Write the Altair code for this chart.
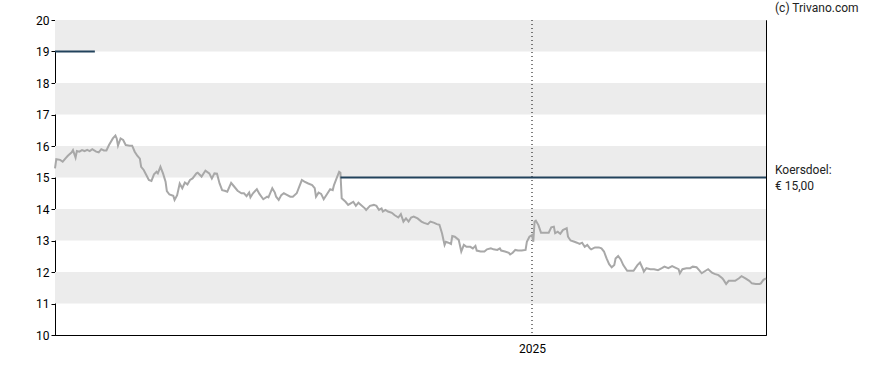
import altair as alt
import pandas as pd

# ---- data ----
start_date = "2023-12-27"
end_date = "2025-07-02"
day_offsets = [0, 1, 4, 6, 8, 10, 13, 14, 16, 17, 19, 21, 23, 25, 27, 29, 32, 34, 36, 38, 40,
               42, 45, 47, 48, 49, 51, 53, 55, 58, 60, 62, 64, 66, 67, 69, 71, 73, 75, 77, 79,
               80, 82, 84, 86, 87, 89, 92, 93, 95, 97, 99, 101, 103, 105, 107, 110, 111, 114,
               117, 120, 122, 124, 126, 128, 130, 132, 134, 137, 139, 142, 145, 147, 149, 151,
               152, 154, 157, 159, 162, 165, 166, 169, 171, 172, 174, 176, 178, 180, 183, 185,
               188, 190, 192, 194, 197, 200, 202, 203, 205, 207, 209, 212, 214, 216, 217, 219,
               221, 222, 223, 226, 228, 230, 232, 234, 236, 238, 241, 242, 245, 248, 250, 252,
               254, 255, 257, 259, 262, 264, 267, 269, 271, 273, 275, 277, 279, 282, 285, 287,
               290, 292, 295, 297, 299, 301, 303, 304, 306, 308, 309, 311, 314, 316, 318, 320,
               323, 325, 327, 328, 331, 334, 336, 339, 341, 344, 346, 347, 350, 353, 354, 356,
               358, 360, 363, 366, 367, 369, 371, 372, 373, 374, 376, 378, 380, 382, 384, 386,
               388, 389, 391, 393, 395, 398, 399, 401, 404, 406, 408, 410, 412, 414, 416, 417,
               420, 423, 425, 427, 429, 431, 433, 435, 436, 438, 440, 442, 445, 447, 450, 453,
               455, 457, 458, 460, 463, 466, 469, 472, 474, 477, 480, 482, 485, 486, 488, 491,
               494, 496, 499, 501, 503, 506, 508, 511, 513, 516, 519, 520, 522, 524, 526, 529,
               532, 534, 537, 540, 542, 545, 548, 549, 551, 553]
prices = [15.29, 15.58, 15.56, 15.50, 15.60, 15.69, 15.80, 15.87, 15.63, 15.84, 15.82, 15.87,
          15.84, 15.88, 15.84, 15.90, 15.82, 15.80, 15.90, 15.86, 15.86,
          16.03, 16.24, 16.33, 16.24, 16.01, 16.24, 16.19, 16.03, 16.01, 16.01, 15.82, 15.69,
          15.60, 15.34, 15.24, 15.08, 14.92, 14.89, 15.10, 15.18,
          15.13, 15.34, 15.13, 14.87, 14.57, 14.46, 14.42, 14.29, 14.44, 14.81, 14.66, 14.84,
          14.78, 14.92, 14.97, 15.13, 15.15, 15.03,
          15.22, 15.13, 14.97, 15.13, 15.12, 14.81, 14.60, 14.58, 14.55, 14.83, 14.73, 14.58,
          14.50, 14.50, 14.41, 14.52,
          14.37, 14.50, 14.63, 14.48, 14.31, 14.39, 14.37, 14.66, 14.52, 14.39, 14.29, 14.44,
          14.50, 14.46, 14.39, 14.39,
          14.50, 14.71, 14.92, 14.87, 14.81, 14.76, 14.66, 14.39, 14.52, 14.48, 14.31, 14.50,
          14.63, 14.60, 14.76, 14.97,
          15.18, 15.15, 14.34, 14.23, 14.13, 14.18, 14.23, 14.10, 14.20, 14.13, 14.02, 13.97,
          14.10, 14.13, 14.10, 13.97,
          14.02, 13.92, 13.97, 13.92, 13.88, 13.81, 13.73, 13.84, 13.60, 13.70, 13.60, 13.73,
          13.76, 13.70, 13.60, 13.56,
          13.52, 13.60, 13.56, 13.52, 13.50, 13.23, 12.86, 12.96, 12.93, 12.89, 13.14, 13.12,
          13.02, 12.65, 12.86, 12.80,
          12.80, 12.75, 12.83, 12.68, 12.65, 12.65, 12.72, 12.75, 12.72, 12.70, 12.75, 12.68,
          12.65, 12.61, 12.56, 12.61,
          12.70, 12.68, 12.68, 12.70, 12.96, 13.12, 13.17, 12.96, 13.60, 13.63, 13.49, 13.25,
          13.25, 13.25, 13.25, 13.42,
          13.44, 13.23, 13.28, 13.21, 13.33, 13.39, 13.12, 13.00, 12.96, 12.93, 12.89, 12.93,
          12.80, 12.86, 12.75, 12.72,
          12.78, 12.78, 12.75, 12.65, 12.43, 12.25, 12.15, 12.22, 12.43, 12.51, 12.40, 12.22,
          12.04, 12.04, 12.04, 12.22,
          12.30, 12.12, 12.01, 12.12, 12.09, 12.09, 12.06, 12.12, 12.17, 12.12, 12.19, 12.15,
          12.09, 11.96, 12.09, 12.12,
          12.12, 12.17, 12.15, 12.06, 11.96, 12.04, 12.09, 11.98, 11.94, 11.90, 11.80, 11.75,
          11.62, 11.72, 11.72, 11.72,
          11.80, 11.87, 11.80, 11.72, 11.64, 11.62, 11.62, 11.64, 11.75, 11.80]

target_start = ["2023-12-27", "2024-08-05"]
target_end = ["2024-01-27", "2025-07-02"]
target_value = [19, 15]

band_low = [11, 13, 15, 17, 19]
band_high = [12, 14, 16, 18, 20]

year_marker = ["2025-01-01"]
y_ticks = [10, 11, 12, 13, 14, 15, 16, 17, 18, 19, 20]

# ---- tables ----
base_date = pd.Timestamp(start_date)
price_df = pd.DataFrame({
    "date": [base_date + pd.Timedelta(days=d) for d in day_offsets],
    "price": prices,
})
target_df = pd.DataFrame({"start": pd.to_datetime(target_start),
                          "end": pd.to_datetime(target_end),
                          "value": target_value})
band_df = pd.DataFrame({"lo": band_low, "hi": band_high})
year_df = pd.DataFrame({"date": pd.to_datetime(year_marker)})

FONT = "Roboto"
x_scale = alt.Scale(domain=[start_date, end_date])
y_scale = alt.Scale(domain=[10, 20], nice=False, zero=False)
y_axis = alt.Axis(values=y_ticks, title=None, grid=False, tickSize=4, tickCount=11,
                  tickColor="black", domainColor="black", labelPadding=2,
                  labelOverlap=False, labelFont=FONT, labelFontSize=12,
                  labelColor="black")
x_axis = alt.Axis(values=[alt.DateTime(year=2025, month=1, date=1)], format="%Y",
                  title=None, grid=False, tickSize=0, labelPadding=8,
                  domainColor="black", labelFont=FONT, labelFontSize=12,
                  labelColor="black")

bands = alt.Chart(band_df).mark_rect(color="#ececec").encode(
    y=alt.Y("lo:Q", scale=y_scale, axis=y_axis),
    y2="hi:Q",
)

year_rule = alt.Chart(year_df).mark_rule(color="black", strokeDash=[1, 3], strokeWidth=1).encode(
    x=alt.X("date:T", scale=x_scale, axis=x_axis),
)

price_line = alt.Chart(price_df).mark_line(color="#a8a8a8", strokeWidth=2).encode(
    x=alt.X("date:T", scale=x_scale, axis=x_axis),
    y=alt.Y("price:Q", scale=y_scale, axis=y_axis),
)

target_lines = alt.Chart(target_df).mark_rule(color="#22435c", strokeWidth=2).encode(
    x=alt.X("start:T", scale=x_scale, axis=x_axis),
    x2="end:T",
    y=alt.Y("value:Q", scale=y_scale, axis=y_axis),
)

credit = alt.Chart(pd.DataFrame({"t": ["(c) Trivano.com"]})).mark_text(
    align="left", baseline="middle", font=FONT, fontSize=12, color="#222"
).encode(x=alt.value(720), y=alt.value(-12), text="t:N")

label1 = alt.Chart(pd.DataFrame({"t": ["Koersdoel:"]})).mark_text(
    align="left", baseline="middle", font=FONT, fontSize=12, color="#222"
).encode(x=alt.value(720), y=alt.value(150), text="t:N")

label2 = alt.Chart(pd.DataFrame({"t": ["€ 15,00"]})).mark_text(
    align="left", baseline="middle", font=FONT, fontSize=12, color="#222"
).encode(x=alt.value(720), y=alt.value(166), text="t:N")

chart = alt.layer(bands, year_rule, price_line, target_lines, credit, label1, label2).properties(
    width=711, height=315,
    autosize=alt.AutoSizeParams(type="none"),
    padding={"left": 55, "top": 20, "right": 122, "bottom": 35},
    background="white",
).configure_view(stroke="black", strokeWidth=1)

chart.save("out.html", embed_options={"renderer": "svg", "actions": False})
